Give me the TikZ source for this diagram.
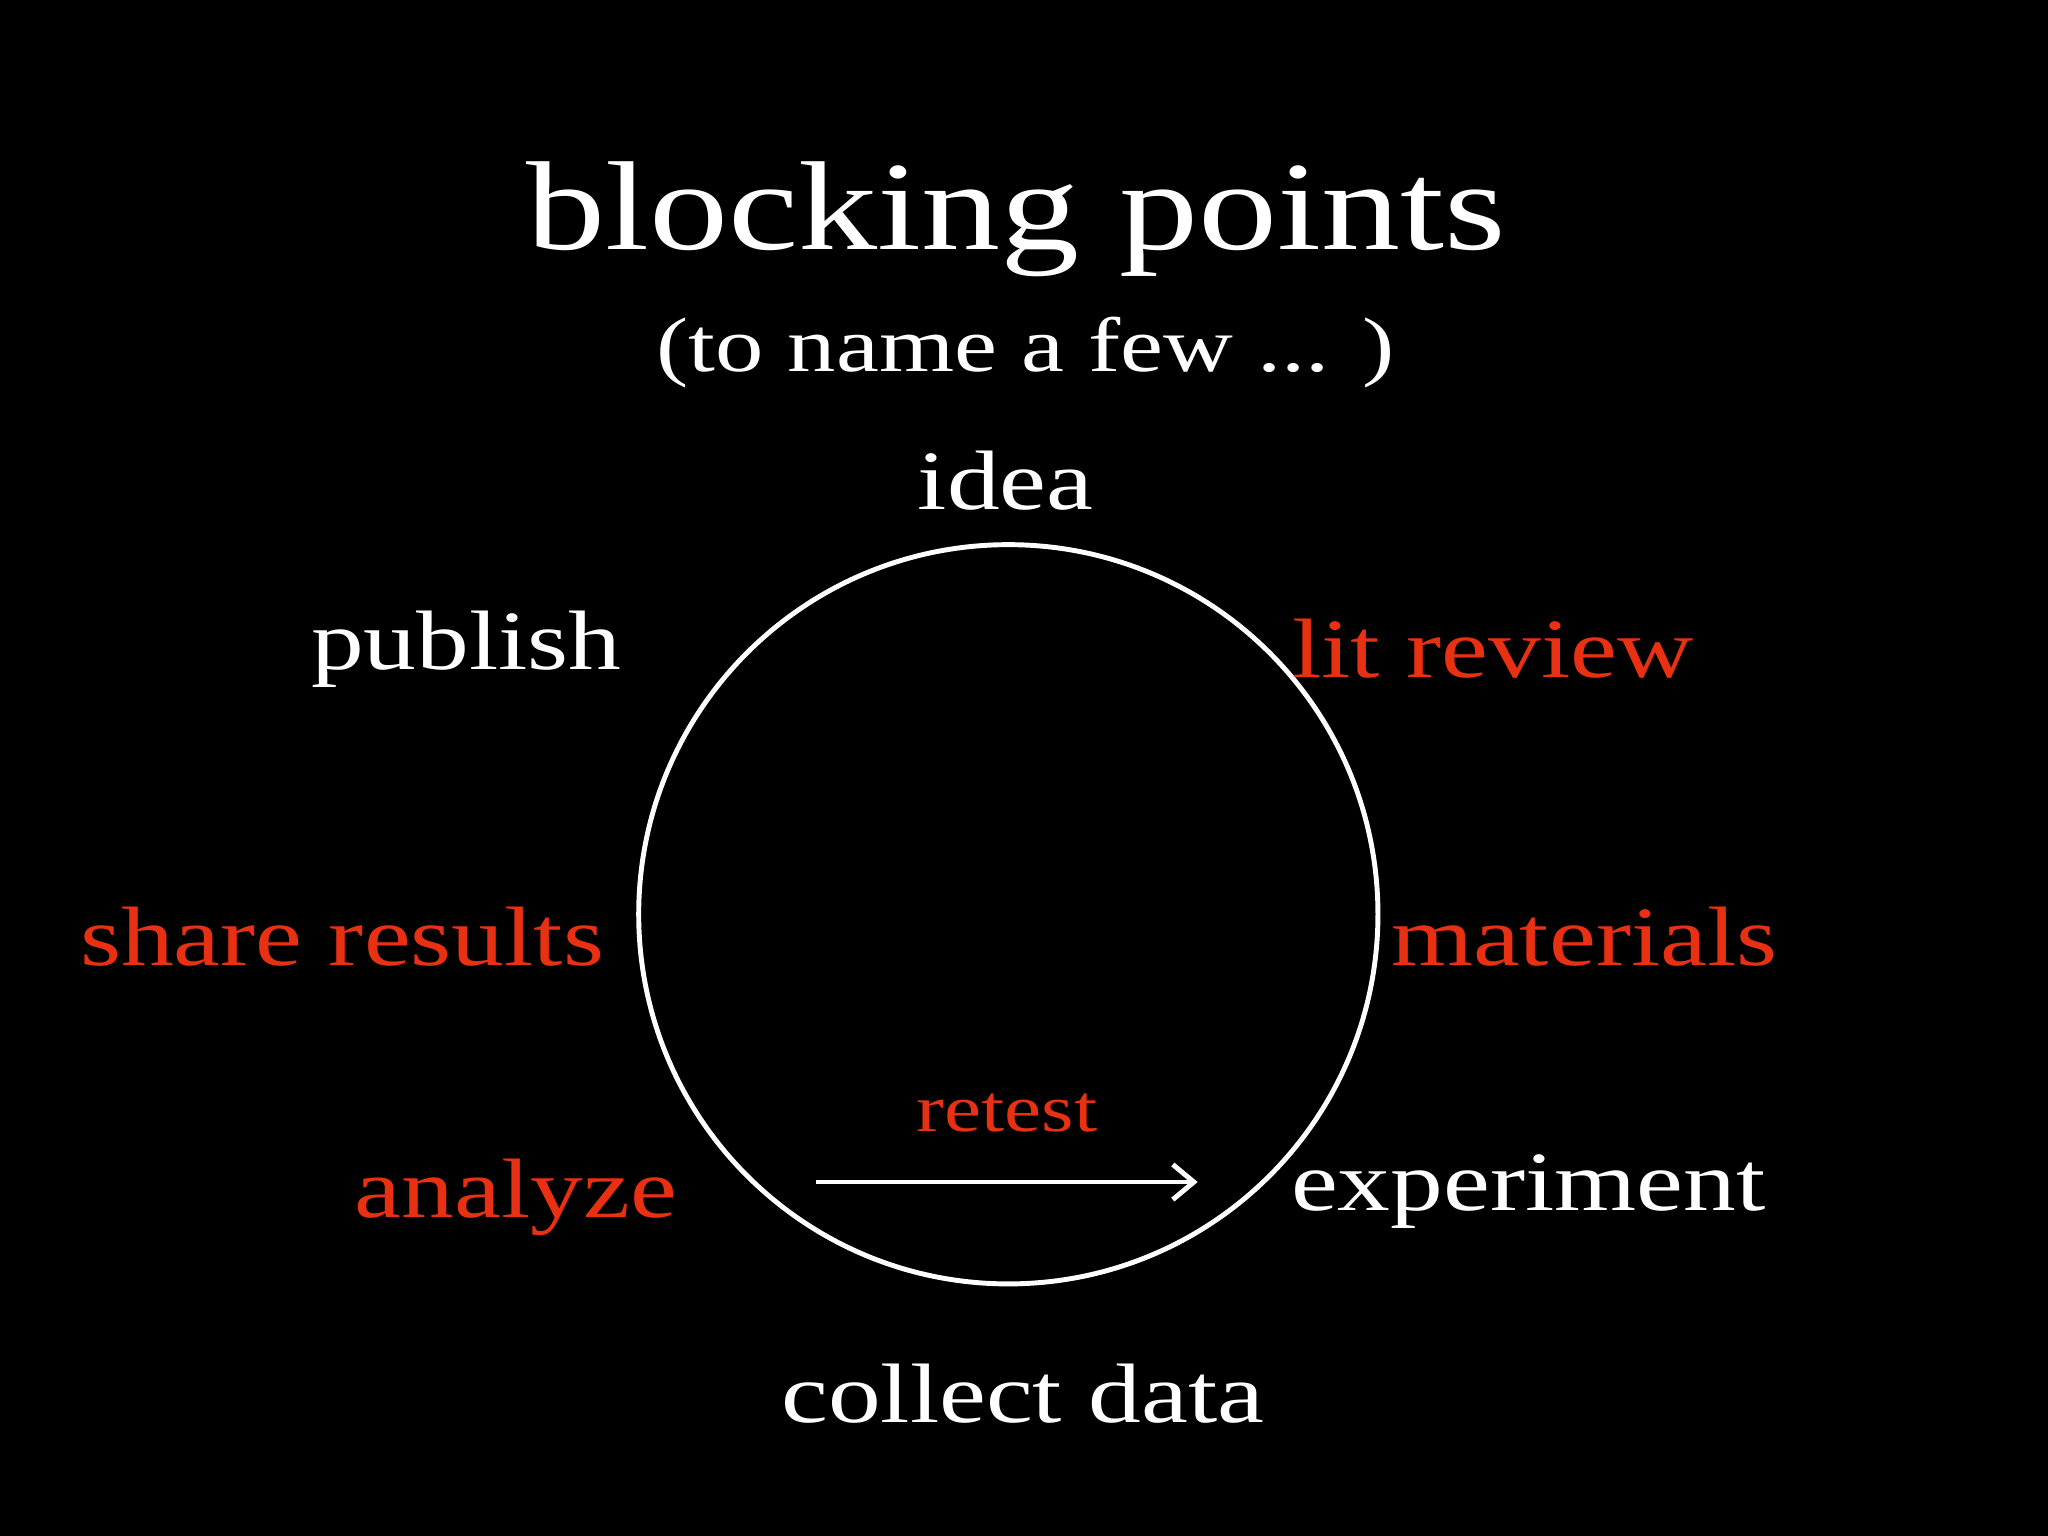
\documentclass[tikz,border=0pt]{standalone}
\usepackage{fontspec}
\setmainfont{Liberation Serif}[FakeStretch=1.25]
\usetikzlibrary{arrows.meta}
\definecolor{rd}{RGB}{232,48,18}
\begin{document}
\begin{tikzpicture}[x=0.01306cm,y=-0.01306cm,
  lbl/.style={font=\fontsize{24}{28}\selectfont, text=white},
  red/.style={lbl, text=rd}]
\fill[black] (0,0) rectangle (1568,1176);
\node[text=white, font=\fontsize{36}{40}\selectfont] (t) at (778,168) {blocking points};
\node[text=white, font=\fontsize{22}{26}\selectfont] (s) at (785,270) {(to name a few ... )};
\node[draw=white, line width=1.4pt, circle, minimum size=566*0.01306cm, inner sep=0] (c) at (772,700) {};
\node[lbl] (idea) at (770,368) {idea};
\node[lbl] (pub) at (357,497) {publish};
\node[red] (lit) at (1143,497) {lit review};
\node[red] (share) at (262,717) {share results};
\node[red] (mat) at (1213,717) {materials};
\node[red] (ana) at (395,917) {analyze};
\node[lbl] (exp) at (1170,912) {experiment};
\node[lbl] (col) at (783,1067) {collect data};
\node[text=rd, font=\fontsize{19}{22}\selectfont] (ret) at (771,852) {retest};
\coordinate (a1) at (625,905);
\coordinate (a2) at (917,905);
\draw[white, line width=1.4pt, -{Straight Barb[length=6pt,width=10pt]}] (a1) -- (a2);
\end{tikzpicture}
\end{document}
